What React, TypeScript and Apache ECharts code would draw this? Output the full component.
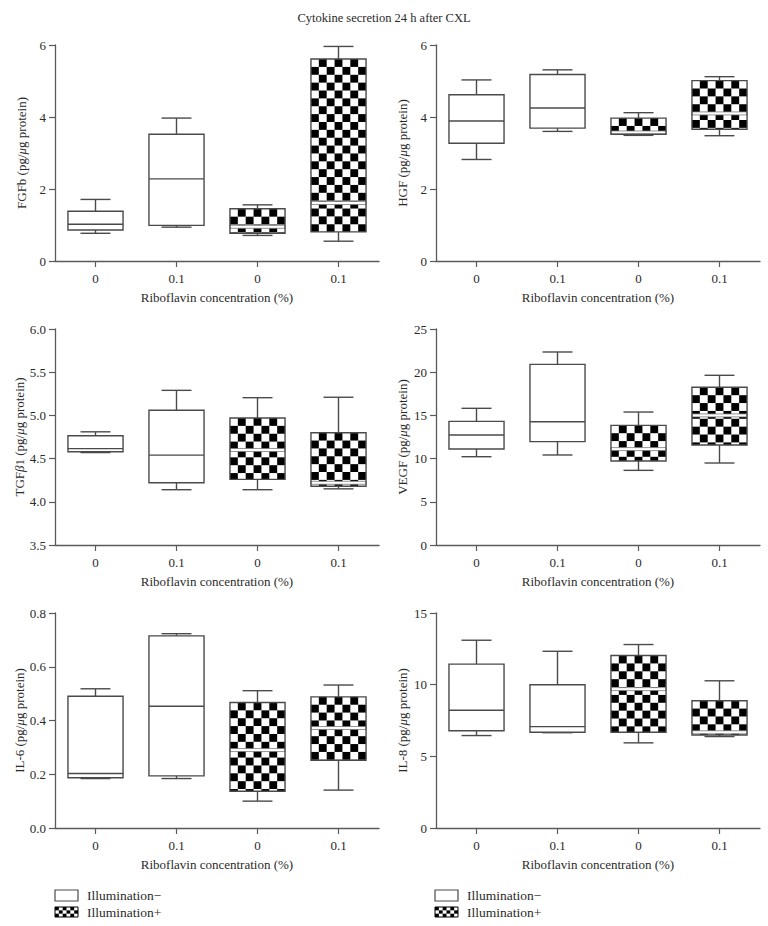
import React, { useEffect, useRef } from "react";
import * as echarts from "echarts";

const FONT = "'Liberation Serif', 'DejaVu Serif', serif";

const titleText = "Cytokine secretion 24 h after CXL";
const categories = ["0", "0.1", "0", "0.1"];
const checkered = [false, false, true, true];
const xAxisTitle = "Riboflavin concentration (%)";
const legendLabels = ["Illumination\u2212", "Illumination+"];

// each entry: [min, Q1, median, Q3, max]
const fgfb = [
  [0.77, 0.86, 1.02, 1.38, 1.71],
  [0.94, 0.99, 2.28, 3.52, 3.97],
  [0.71, 0.77, 0.95, 1.45, 1.56],
  [0.55, 0.81, 1.61, 5.61, 5.96],
];
const hgf = [
  [2.82, 3.27, 3.89, 4.62, 5.03],
  [3.6, 3.69, 4.25, 5.18, 5.31],
  [3.49, 3.52, 3.57, 3.97, 4.12],
  [3.48, 3.66, 4.1, 5.01, 5.12],
];
const tgfb1 = [
  [4.57, 4.58, 4.615, 4.765, 4.81],
  [4.14, 4.22, 4.54, 5.06, 5.29],
  [4.14, 4.26, 4.6, 4.97, 5.205],
  [4.15, 4.18, 4.22, 4.8, 5.21],
];
const vegf = [
  [10.22, 11.11, 12.73, 14.31, 15.82],
  [10.42, 11.96, 14.27, 20.91, 22.34],
  [8.64, 9.72, 11.1, 13.85, 15.39],
  [9.49, 11.57, 15.0, 18.25, 19.64],
];
const il6 = [
  [0.184, 0.187, 0.203, 0.49, 0.518],
  [0.184, 0.194, 0.453, 0.715, 0.723],
  [0.1, 0.137, 0.29, 0.467, 0.511],
  [0.141, 0.252, 0.372, 0.488, 0.532],
];
const il8 = [
  [6.45, 6.79, 8.21, 11.43, 13.1],
  [6.65, 6.68, 7.07, 9.99, 12.33],
  [5.94, 6.68, 9.69, 12.03, 12.8],
  [6.38, 6.49, 6.68, 8.88, 10.27],
];

const yNames = [
  "FGFb (pg/{i|\u03bc}g protein)",
  "HGF (pg/{i|\u03bc}g protein)",
  "TGF{i|\u03b2}1 (pg/{i|\u03bc}g protein)",
  "VEGF (pg/{i|\u03bc}g protein)",
  "IL-6 (pg/{i|\u03bc}g protein)",
  "IL-8 (pg/{i|\u03bc}g protein)",
];
const yMins = [0, 0, 3.5, 0, 0, 0];
const yMaxs = [6, 6, 6.0, 25, 0.8, 15];
const yIntervals = [2, 2, 0.5, 5, 0.2, 5];
const yDecimals = [0, 0, 1, 0, 1, 0];
const panelData = [fgfb, hgf, tgfb1, vegf, il6, il8];

const LINE = "#4a4a4a";
const AXIS = "#5a5a5a";
const TEXT = "#2a2a2a";
const FS = 13;

function renderBox(params: any, api: any) {
  const idx = api.value(0);
  const vMin = api.value(1);
  const vQ1 = api.value(2);
  const vMed = api.value(3);
  const vQ3 = api.value(4);
  const vMax = api.value(5);
  const x = api.coord([idx, vMin])[0];
  const yMin = api.coord([idx, vMin])[1];
  const yQ1 = api.coord([idx, vQ1])[1];
  const yMed = api.coord([idx, vMed])[1];
  const yQ3 = api.coord([idx, vQ3])[1];
  const yMax = api.coord([idx, vMax])[1];
  const band = api.size([1, 0])[0];
  const bw = band * 0.68;
  const cw = band * 0.37;
  const left = x - bw / 2;
  const lineStyle = { stroke: LINE, lineWidth: 1.4, fill: null };
  const children: any[] = [];
  children.push({
    type: "line",
    shape: { x1: x, y1: yQ3, x2: x, y2: yMax },
    style: lineStyle,
  });
  children.push({
    type: "line",
    shape: { x1: x - cw / 2, y1: yMax, x2: x + cw / 2, y2: yMax },
    style: lineStyle,
  });
  children.push({
    type: "line",
    shape: { x1: x, y1: yQ1, x2: x, y2: yMin },
    style: lineStyle,
  });
  children.push({
    type: "line",
    shape: { x1: x - cw / 2, y1: yMin, x2: x + cw / 2, y2: yMin },
    style: lineStyle,
  });
  children.push({
    type: "rect",
    shape: { x: left, y: yQ3, width: bw, height: yQ1 - yQ3 },
    style: { fill: "#ffffff", stroke: null },
  });
  const isChecker = checkered[idx];
  if (isChecker) {
    const s = bw / 7;
    const h = yQ1 - yQ3;
    const rows = Math.ceil(h / s);
    for (let r = 0; r < rows; r++) {
      for (let c = 0; c < 7; c++) {
        if ((r + c) % 2 === 1) {
          const yy = yQ3 + r * s;
          const hh = Math.min(s, yQ1 - yy);
          if (hh > 0) {
            children.push({
              type: "rect",
              shape: { x: left + c * s, y: yy, width: s, height: hh },
              style: { fill: "#000000", stroke: null },
            });
          }
        }
      }
    }
    children.push({
      type: "rect",
      shape: { x: left, y: yMed - 1.5, width: bw, height: 3 },
      style: { fill: "#ffffff", stroke: "#777777", lineWidth: 0.8 },
    });
  } else {
    children.push({
      type: "line",
      shape: { x1: left, y1: yMed, x2: left + bw, y2: yMed },
      style: lineStyle,
    });
  }
  children.push({
    type: "rect",
    shape: { x: left, y: yQ3, width: bw, height: yQ1 - yQ3 },
    style: { fill: null, stroke: LINE, lineWidth: 1.4 },
  });
  return { type: "group", children };
}

export default function App() {
  const ref = useRef<HTMLDivElement>(null);
  useEffect(() => {
    document.body.style.margin = "0";
    if (!ref.current) return;
    const chart = echarts.init(ref.current, null, { renderer: "svg" });
    const gridLefts = [55, 436];
    const gridTops = [45, 329, 613];
    const gridW = 324;
    const gridH = 216;
    const grids: any[] = [];
    const xAxes: any[] = [];
    const yAxes: any[] = [];
    const series: any[] = [];
    for (let p = 0; p < 6; p++) {
      const col = p % 2;
      const row = Math.floor(p / 2);
      grids.push({
        left: gridLefts[col],
        top: gridTops[row],
        width: gridW,
        height: row === 2 ? 215 : gridH,
      });
      xAxes.push({
        type: "category",
        gridIndex: p,
        data: categories,
        boundaryGap: true,
        name: xAxisTitle,
        nameLocation: "middle",
        nameGap: 29.5,
        nameTextStyle: { fontFamily: FONT, fontSize: FS, color: TEXT },
        axisLine: { show: true, lineStyle: { color: AXIS, width: 1.3 } },
        axisTick: {
          show: true,
          alignWithLabel: true,
          length: 6,
          lineStyle: { color: AXIS, width: 1.2 },
        },
        axisLabel: {
          fontFamily: FONT,
          fontSize: FS,
          color: TEXT,
          margin: 10.5,
        },
        splitLine: { show: false },
      });
      const dec = yDecimals[p];
      yAxes.push({
        type: "value",
        gridIndex: p,
        min: yMins[p],
        max: yMaxs[p],
        interval: yIntervals[p],
        name: yNames[p],
        nameLocation: "middle",
        nameGap: 27.5,
        nameTextStyle: {
          fontFamily: FONT,
          fontSize: FS,
          color: TEXT,
          rich: {
            i: { fontFamily: FONT, fontSize: FS, fontStyle: "italic", color: TEXT },
          },
        },
        axisLine: { show: true, lineStyle: { color: AXIS, width: 1.3 } },
        axisTick: { show: true, length: 6, lineStyle: { color: AXIS, width: 1.2 } },
        axisLabel: {
          fontFamily: FONT,
          fontSize: FS,
          color: TEXT,
          margin: 9,
          formatter: (v: number) => v.toFixed(dec),
        },
        splitLine: { show: false },
      });
      series.push({
        type: "custom",
        xAxisIndex: p,
        yAxisIndex: p,
        renderItem: renderBox,
        encode: { x: 0, y: [1, 2, 3, 4, 5] },
        data: panelData[p].map((v, k) => [k, ...v]),
        clip: false,
      });
    }

    // legends
    const graphics: any[] = [];
    const legX = [55, 435];
    for (const lx of legX) {
      graphics.push({
        type: "rect",
        shape: { x: lx, y: 890, width: 23, height: 11 },
        style: { fill: "#fff", stroke: LINE, lineWidth: 1.2 },
      });
      graphics.push({
        type: "text",
        x: lx + 32,
        y: 895.5,
        style: {
          text: legendLabels[0],
          fontFamily: FONT,
          fontSize: 13.5,
          fill: TEXT,
          verticalAlign: "middle",
        },
      });
      graphics.push({
        type: "rect",
        shape: { x: lx, y: 907, width: 23, height: 10 },
        style: { fill: "#fff", stroke: null },
      });
      const s = 23 / 6;
      const sh = 10 / 3;
      for (let r = 0; r < 3; r++) {
        for (let c = 0; c < 6; c++) {
          if ((r + c) % 2 === 0) {
            graphics.push({
              type: "rect",
              shape: { x: lx + c * s, y: 907 + r * sh, width: s, height: sh },
              style: { fill: "#000", stroke: null },
            });
          }
        }
      }
      graphics.push({
        type: "rect",
        shape: { x: lx, y: 907, width: 23, height: 10 },
        style: { fill: null, stroke: "#000", lineWidth: 1 },
      });
      graphics.push({
        type: "text",
        x: lx + 32,
        y: 912,
        style: {
          text: legendLabels[1],
          fontFamily: FONT,
          fontSize: 13.5,
          fill: TEXT,
          verticalAlign: "middle",
        },
      });
    }

    chart.setOption({
      animation: false,
      backgroundColor: "#ffffff",
      title: {
        text: titleText,
        left: "center",
        top: 6,
        textStyle: { fontFamily: FONT, fontSize: 12.5, fontWeight: "normal", color: TEXT },
      },
      grid: grids,
      xAxis: xAxes,
      yAxis: yAxes,
      series,
      graphic: graphics,
    });
    return () => chart.dispose();
  }, []);
  return <div ref={ref} style={{ width: 768, height: 926 }} />;
}
